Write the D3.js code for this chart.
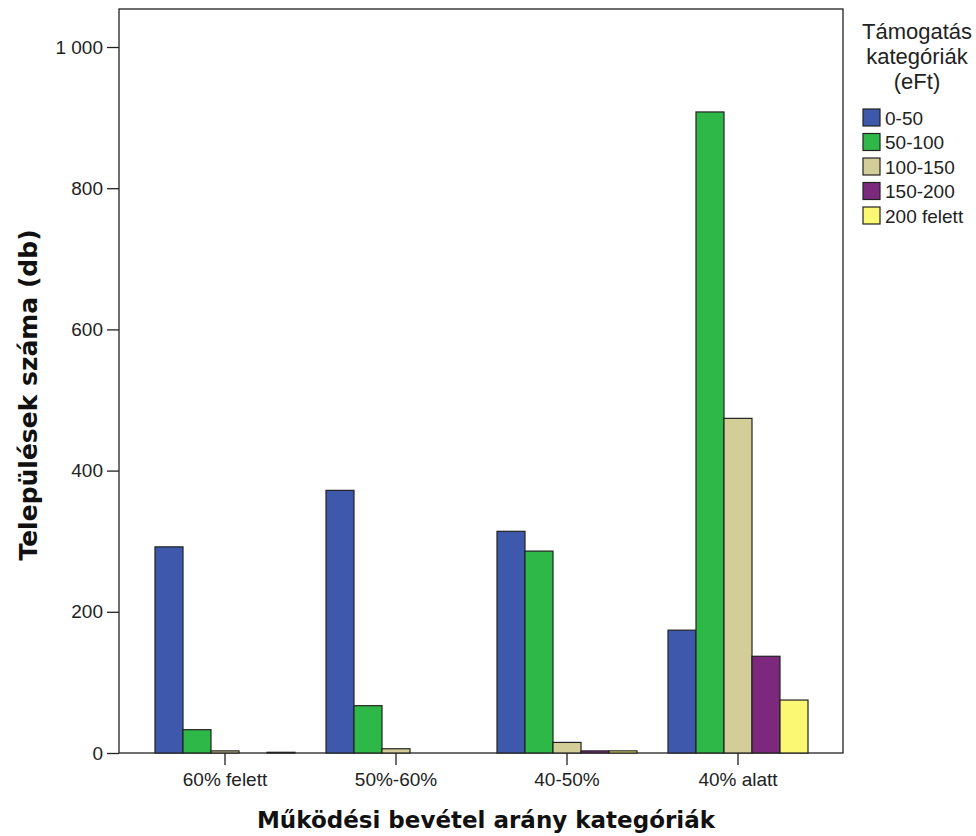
<!DOCTYPE html>
<html>
<head>
<meta charset="utf-8">
<script src="https://cdn.jsdelivr.net/npm/d3@7"></script>
<style>
  body { margin: 0; background: #fff; }
  svg { display: block; }
</style>
</head>
<body>
<svg id="chart" width="976" height="836"></svg>
<script>
// ---- data ----
const categories = ["60% felett", "50%-60%", "40-50%", "40% alatt"];
const seriesNames = ["0-50", "50-100", "100-150", "150-200", "200 felett"];
const s0_50 = [292, 372, 314, 174];
const s50_100 = [33, 67, 286, 908];
const s100_150 = [3, 6, 15, 474];
const s150_200 = [0, 0, 3, 137];
const s200plus = [1, 0, 3, 75];
const yTicks = [0, 200, 400, 600, 800, 1000];
const colors = ["#3E58AC", "#2EB848", "#D3CE97", "#7C287D", "#FBF873"];

const seriesValues = [s0_50, s50_100, s100_150, s150_200, s200plus];

const svg = d3.select("#chart");
const frame = { left: 119, top: 9, right: 843, bottom: 753 };

const y = d3.scaleLinear().domain([0, 1000]).range([753, 47]);
const x0 = d3.scaleBand().domain(categories).range([155, 808]).paddingInner(31 / 171).paddingOuter(0);
const x1 = d3.scaleBand().domain(seriesNames).range([0, x0.bandwidth()]).padding(0);

// frame
svg.append("rect")
  .attr("x", frame.left).attr("y", frame.top)
  .attr("width", frame.right - frame.left).attr("height", frame.bottom - frame.top)
  .attr("fill", "none").attr("stroke", "#222").attr("stroke-width", 1.3);

// bars
const groups = svg.append("g").selectAll("g")
  .data(categories).join("g")
  .attr("transform", d => `translate(${x0(d)},0)`);

groups.selectAll("rect")
  .data((c, ci) => seriesNames.map((s, si) => ({ s, si, v: seriesValues[si][ci] })))
  .join("rect")
  .filter(d => d.v > 0)
  .attr("x", d => x1(d.s))
  .attr("y", d => y(d.v))
  .attr("width", x1.bandwidth())
  .attr("height", d => y(0) - y(d.v))
  .attr("fill", d => colors[d.si])
  .attr("stroke", "#222")
  .attr("stroke-width", 1.2);

// y axis
const yAxis = svg.append("g")
  .attr("transform", `translate(${frame.left},0)`)
  .call(d3.axisLeft(y).tickValues(yTicks).tickSize(12).tickPadding(4)
    .tickFormat(d => d3.format(",")(d).replace(/,/g, " ")));
yAxis.select(".domain").remove();
yAxis.selectAll("line").attr("stroke", "#222").attr("stroke-width", 1.3);
yAxis.selectAll("text").attr("font-family", "Liberation Sans, Arial, sans-serif")
  .attr("font-size", 19).attr("fill", "#222");

// x axis
const xAxis = svg.append("g")
  .attr("transform", `translate(0,${frame.bottom})`)
  .call(d3.axisBottom(x0).tickSize(12).tickPadding(8));
xAxis.select(".domain").remove();
xAxis.selectAll("line").attr("stroke", "#222").attr("stroke-width", 1.3);
xAxis.selectAll("text").attr("font-family", "Liberation Sans, Arial, sans-serif")
  .attr("font-size", 19).attr("fill", "#222");

// axis titles
svg.append("text")
  .attr("x", 486).attr("y", 828)
  .attr("text-anchor", "middle")
  .attr("font-family", "DejaVu Sans, Verdana, sans-serif")
  .attr("font-weight", "bold").attr("font-size", 23).attr("fill", "#111")
  .text("Működési bevétel arány kategóriák");

svg.append("text")
  .attr("transform", "translate(37,395) rotate(-90)")
  .attr("text-anchor", "middle")
  .attr("font-family", "DejaVu Sans, Verdana, sans-serif")
  .attr("font-weight", "bold").attr("font-size", 25).attr("fill", "#111")
  .text("Települések száma (db)");

// legend
const legTitle = ["Támogatás", "kategóriák", "(eFt)"];
svg.append("g").selectAll("text").data(legTitle).join("text")
  .attr("x", 917).attr("y", (d, i) => 39 + i * 25)
  .attr("text-anchor", "middle")
  .attr("font-family", "Liberation Sans, Arial, sans-serif")
  .attr("font-size", 22).attr("fill", "#222")
  .text(d => d);

const leg = svg.append("g").selectAll("g").data(seriesNames).join("g")
  .attr("transform", (d, i) => `translate(863,${109 + i * 24.5})`);
leg.append("rect")
  .attr("width", 17).attr("height", 17)
  .attr("fill", (d, i) => colors[i])
  .attr("stroke", "#222").attr("stroke-width", 1.2);
leg.append("text")
  .attr("x", 22).attr("y", 15.5)
  .attr("font-family", "Liberation Sans, Arial, sans-serif")
  .attr("font-size", 19).attr("fill", "#222")
  .text(d => d);
</script>
</body>
</html>
